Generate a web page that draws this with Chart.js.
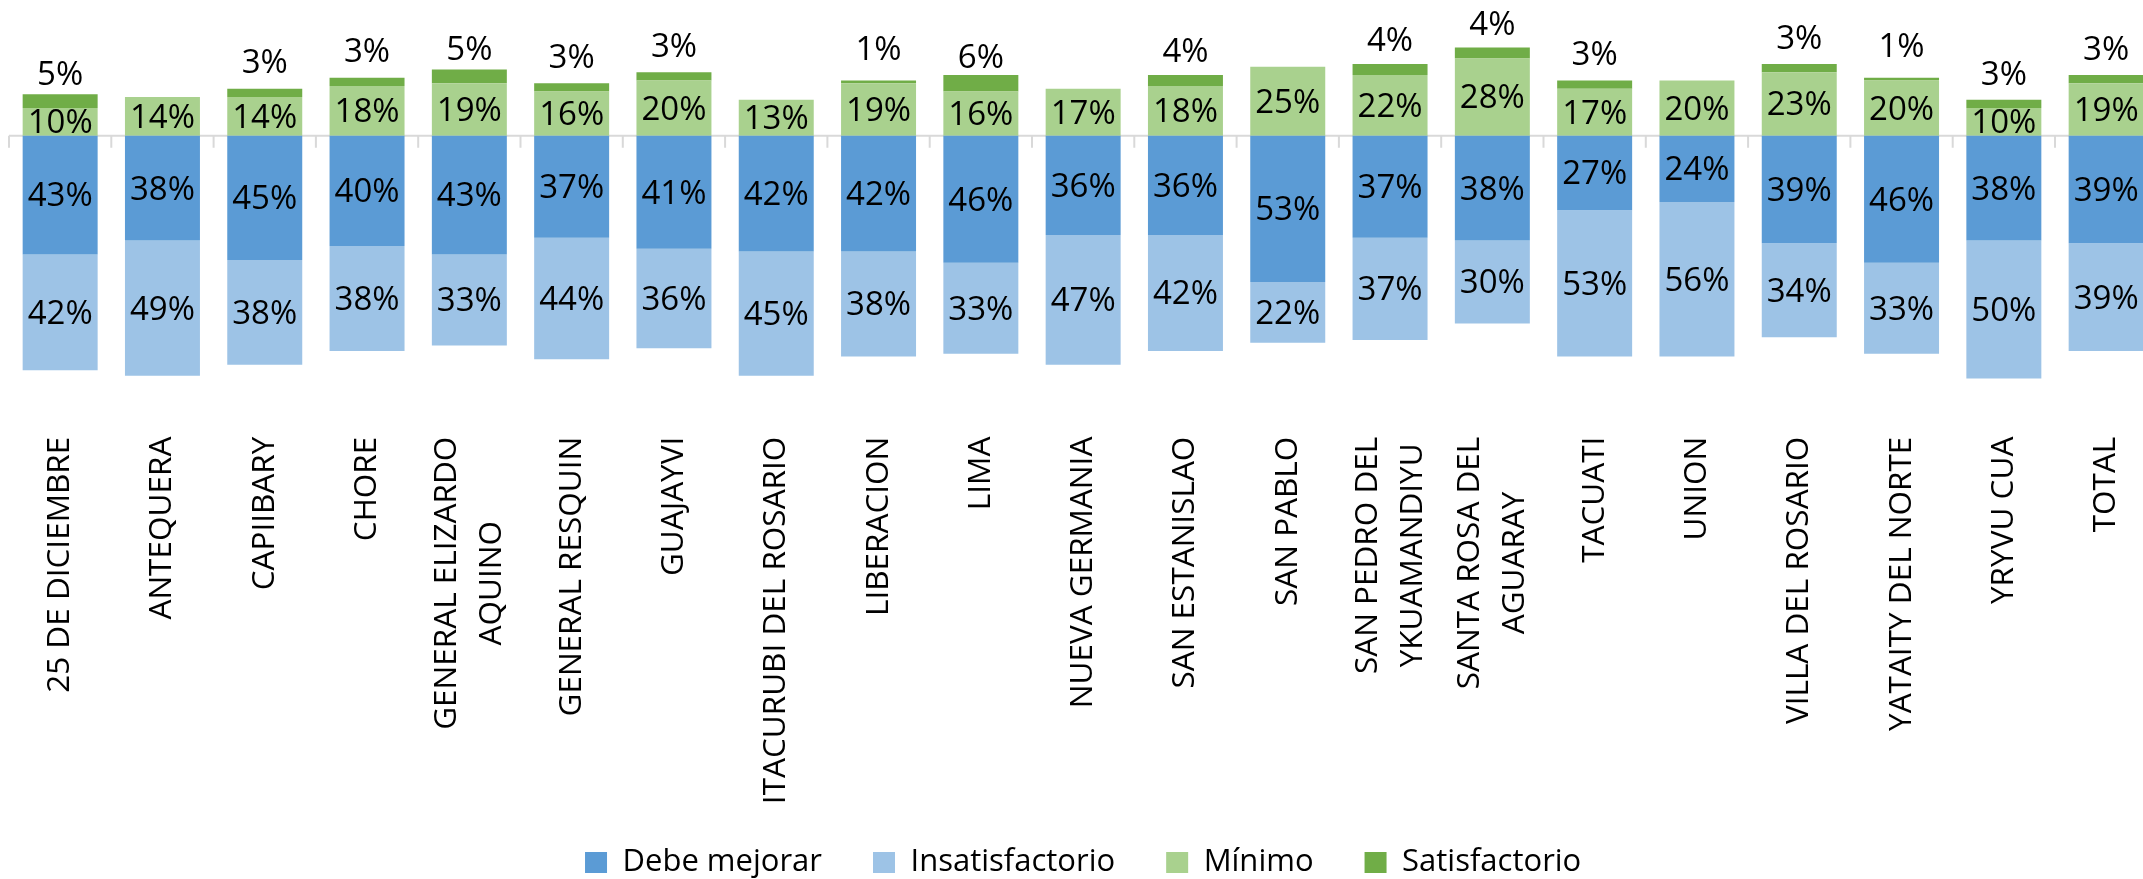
<!DOCTYPE html>
<html>
<head>
<meta charset="utf-8">
<script src="https://cdn.jsdelivr.net/npm/chart.js@4.4.1/dist/chart.umd.min.js"></script>
<style>
  html, body { margin: 0; padding: 0; background: #fff; overflow: hidden; }
  #wrap { width: 2143px; height: 879px; overflow: hidden; }
</style>
</head>
<body>
<div id="wrap"><canvas id="chart" width="2160" height="879"></canvas></div>
<script>
// categorías (cada elemento = líneas de la etiqueta)
const categories = [
  ["25 DE DICIEMBRE"], ["ANTEQUERA"], ["CAPIIBARY"], ["CHORE"],
  ["GENERAL ELIZARDO", "AQUINO"], ["GENERAL RESQUIN"], ["GUAJAYVI"],
  ["ITACURUBI DEL ROSARIO"], ["LIBERACION"], ["LIMA"], ["NUEVA GERMANIA"],
  ["SAN ESTANISLAO"], ["SAN PABLO"], ["SAN PEDRO DEL", "YKUAMANDIYU"],
  ["SANTA ROSA DEL", "AGUARAY"], ["TACUATI"], ["UNION"], ["VILLA DEL ROSARIO"],
  ["YATAITY DEL NORTE"], ["YRYVU CUA"], ["TOTAL"]
];
const debeMejorar     = [43, 38, 45, 40, 43, 37, 41, 42, 42, 46, 36, 36, 53, 37, 38, 27, 24, 39, 46, 38, 39];
const insatisfactorio = [42, 49, 38, 38, 33, 44, 36, 45, 38, 33, 47, 42, 22, 37, 30, 53, 56, 34, 33, 50, 39];
const minimo          = [10, 14, 14, 18, 19, 16, 20, 13, 19, 16, 17, 18, 25, 22, 28, 17, 20, 23, 20, 10, 19];
const satisfactorio   = [ 5,  0,  3,  3,  5,  3,  3,  0,  1,  6,  0,  4,  0,  4,  4,  3,  0,  3,  1,  3,  3];

const FONT = "'Open Sans'";
Chart.defaults.font.family = FONT;
Chart.defaults.color = "#000";

// eje en cero con marcas, etiquetas de datos y de categorías
const extras = {
  id: "extras",
  beforeDatasetsDraw(chart) {
    const { ctx, chartArea: a, scales: { x, y } } = chart;
    const y0 = y.getPixelForValue(0);
    const step = x.width / categories.length;
    ctx.save();
    ctx.strokeStyle = "#d9d9d9";
    ctx.lineWidth = 2;
    ctx.beginPath();
    ctx.moveTo(a.left, y0);
    ctx.lineTo(a.right, y0);
    for (let i = 0; i <= categories.length; i++) {
      const px = a.left + i * step;
      ctx.moveTo(px, y0);
      ctx.lineTo(px, y0 + 12);
    }
    ctx.stroke();
    ctx.restore();
  },
  afterDatasetsDraw(chart) {
    const { ctx, chartArea: a, scales: { x } } = chart;
    ctx.save();
    ctx.fillStyle = "#000";
    ctx.textAlign = "center";
    ctx.textBaseline = "middle";
    ctx.font = "33px " + FONT;
    chart.data.datasets.forEach((ds, i) => {
      chart.getDatasetMeta(i).data.forEach((bar, j) => {
        const v = ds.data[j];
        if (!v) return;
        const ty = i === 3 ? bar.base - 33 : (bar.y + bar.base) / 2 + 2;
        ctx.fillText(Math.round(Math.abs(v)) + "%", bar.x, ty);
      });
    });

    ctx.font = "31.5px " + FONT;
    const top = a.bottom + 25;
    categories.forEach((lines, j) => {
      const px = x.getPixelForValue(j);
      const maxW = Math.max(...lines.map(l => ctx.measureText(l).width));
      ctx.save();
      ctx.translate(px, top);
      ctx.rotate(-Math.PI / 2);
      lines.forEach((ln, k) => {
        ctx.fillText(ln, -maxW / 2, (k - (lines.length - 1) / 2) * 45);
      });
      ctx.restore();
    });
    ctx.restore();
  }
};

new Chart(document.getElementById("chart"), {
  type: "bar",
  data: {
    labels: categories.map(c => c.join(" ")),
    datasets: [
      { label: "Debe mejorar", data: debeMejorar.map(v => -v), backgroundColor: "#5b9bd5" },
      { label: "Insatisfactorio", data: insatisfactorio.map(v => -v), backgroundColor: "#9dc3e6" },
      { label: "Mínimo", data: minimo, backgroundColor: "#a9d18e" },
      { label: "Satisfactorio", data: satisfactorio, backgroundColor: "#70ad47" }
    ]
  },
  options: {
    responsive: false,
    animation: false,
    devicePixelRatio: 1,
    datasets: { bar: { barPercentage: 0.733, categoryPercentage: 1 } },
    layout: { padding: { top: 25.3, left: 9, right: 2.7, bottom: -9 } },
    plugins: {
      tooltip: { enabled: false },
      legend: {
        position: "bottom",
        labels: {
          font: { size: 31 },
          color: "#000",
          boxWidth: 22,
          boxHeight: 21,
          padding: 51
        }
      }
    },
    scales: {
      x: {
        stacked: true,
        ticks: { display: false },
        grid: { display: false, drawTicks: false },
        border: { display: false },
        afterFit: s => { s.height = 384.3; }
      },
      y: {
        stacked: true,
        display: false,
        min: -100,
        max: 40
      }
    }
  },
  plugins: [extras]
});
</script>
</body>
</html>
